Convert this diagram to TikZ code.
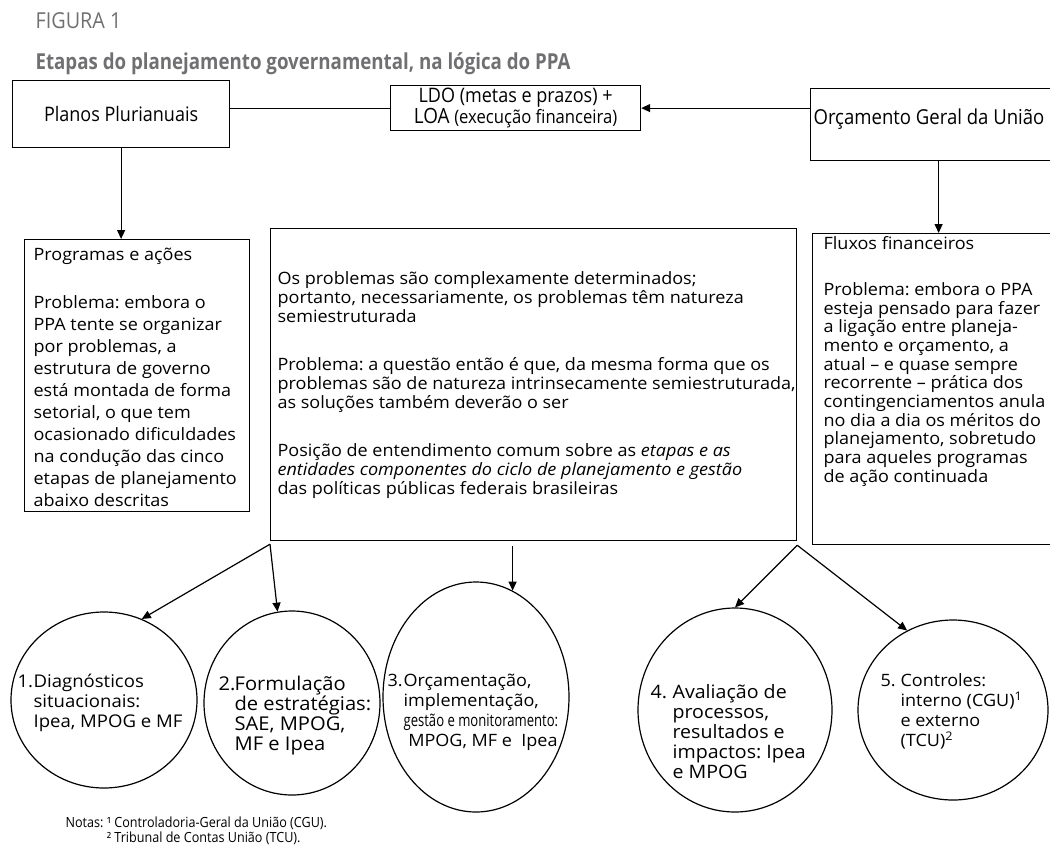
\documentclass[tikz,border=0pt]{standalone}
\usepackage{fontspec}
\setmainfont{Open Sans}
\newfontfamily\bodyfont{Open Sans}[FakeStretch=1.06]
\newfontfamily\condfont{Open Sans}[FakeStretch=0.9]
\newfontfamily\titlefont{Open Sans}[FakeStretch=0.85]
\newfontfamily\tightfont{Open Sans}[FakeStretch=0.77]
\usetikzlibrary{arrows.meta, positioning, shapes.geometric}
\definecolor{titlegray}{RGB}{112,112,114}
\newcommand{\stepnum}[2][16pt]{\makebox[#1][l]{#2}}
\newcommand{\hangnum}[1][16pt]{\hspace*{#1}}
\frenchspacing

\begin{document}
\begin{tikzpicture}[
            x = 1pt, y = -1pt, % pixel grid, y runs downwards
            > = {Triangle[length=9pt, width=8pt]}, % arrow head style
            shorten > = 0pt,
            line width = 1.2pt, % line style
        ]
\tikzstyle{boxstyle}=[
            shape = rectangle,
            draw = black,
            inner sep = 0pt,
            anchor = north west
        ]
\tikzstyle{stepcircle}=[
            shape = ellipse,
            draw = black,
            inner sep = 0pt
        ]
\tikzstyle{boxtext}=[
            anchor = north west,
            inner sep = 0pt,
            align = left,
            font = \bodyfont\fontsize{17}{19}\selectfont
        ]
\tikzstyle{steptext}=[
            boxtext,
            font = \bodyfont\fontsize{18.5}{20}\selectfont
        ]
\tikzstyle{condtext}=[
            inner sep = 0pt,
            align = center,
            font = \condfont\fontsize{20}{20}\selectfont
        ]
\useasboundingbox (0,0) rectangle (1050,855);

% title
\node[anchor=base west, inner sep=0pt, text=titlegray, font=\condfont\fontsize{22}{24}\selectfont] (fig) at (35,28) {FIGURA 1};
\node[anchor=base west, inner sep=0pt, text=titlegray, font=\titlefont\bfseries\fontsize{22}{26}\selectfont] (title) at (35,69) {Etapas do planejamento governamental, na lógica do PPA};

% top row
\node[boxstyle, condtext, minimum width=217pt, minimum height=67pt] (pp) at (12,80) {Planos Plurianuais};
\node[boxstyle, condtext, minimum width=250pt, minimum height=45pt] (ldo) at (390,85) {LDO (metas e prazos) +\\{\fontsize{21}{20}\selectfont LOA} {\fontsize{18.5}{20}\selectfont(execução financeira)}};
\node[boxstyle, minimum width=256pt, minimum height=72pt] (ogu) at (810,88) {};
\node[condtext, anchor=west, font=\condfont\fontsize{20.6}{20}\selectfont] (ogutxt) at (813,119) {Orçamento Geral da União};

% text boxes
\node[boxstyle, minimum width=225pt, minimum height=272pt] (prg) at (24,239) {};
\node[boxstyle, minimum width=526pt, minimum height=312pt] (mid) at (270,228) {};
\node[boxstyle, minimum width=250pt, minimum height=311pt] (flx) at (812,233) {};

\node[boxtext, font=\bodyfont\fontsize{17}{22}\selectfont] (prgtxt) at (33,247) {Programas e ações\\[26pt]
Problema: embora o\\PPA tente se organizar\\por problemas, a\\estrutura de governo\\está montada de forma\\setorial, o que tem\\ocasionado dificuldades\\na condução das cinco\\etapas de planejamento\\abaixo descritas};
\node[boxtext] (midtxt) at (277,271) {Os problemas são complexamente determinados;\\portanto, necessariamente, os problemas têm natureza\\semiestruturada\\[29pt]
Problema: a questão então é que, da mesma forma que os\\problemas são de natureza intrinsecamente semiestruturada,\\as soluções também deverão o ser\\[29pt]
Posição de entendimento comum sobre as \emph{etapas e as}\\\emph{entidades componentes do ciclo de planejamento e gestão}\\das políticas públicas federais brasileiras};
\node[boxtext, font=\bodyfont\fontsize{17}{18.7}\selectfont] (flxtxt) at (823,236) {Fluxos financeiros\\[27pt]
Problema: embora o PPA\\esteja pensado para fazer\\a ligação entre planeja-\\mento e orçamento, a\\atual – e quase sempre\\recorrente – prática dos\\contingenciamentos anula\\no dia a dia os méritos do\\planejamento, sobretudo\\para aqueles programas\\de ação continuada};

% the five steps
\node[stepcircle, minimum width=186pt, minimum height=176pt] (c1) at (104,700) {};
\node[stepcircle, minimum width=176pt, minimum height=184pt] (c2) at (292,703) {};
\node[stepcircle, minimum width=186pt, minimum height=230pt] (c3) at (476,697) {};
\node[stepcircle, minimum width=194pt, minimum height=204pt] (c4) at (735,710) {};
\node[stepcircle, minimum width=190pt, minimum height=180pt] (c5) at (953,710) {};

\node[steptext, font=\bodyfont\fontsize{17.5}{20}\selectfont] (c1txt) at (17,673) {\stepnum{1.}Diagnósticos\\\hangnum situacionais:\\\hangnum Ipea, MPOG e MF};
\node[steptext, font=\bodyfont\fontsize{19}{20}\selectfont] (c2txt) at (218,675) {\stepnum{2.}Formulação\\\hangnum de estratégias:\\\hangnum SAE, MPOG,\\\hangnum MF e Ipea};
\node[steptext, font=\bodyfont\fontsize{17}{20}\selectfont] (c3txt) at (387,673) {\stepnum{3.}Orçamentação,\\\hangnum implementação,\\\hangnum{\tightfont gestão e monitoramento:}\\\hangnum\ MPOG, MF e\ \ Ipea};
\node[steptext] (c4txt) at (650,684) {\stepnum[22pt]{4.}Avaliação de\\\hangnum[22pt]processos,\\\hangnum[22pt]resultados e\\\hangnum[22pt]impactos: Ipea\\\hangnum[22pt]e MPOG};
\node[steptext, font=\bodyfont\fontsize{17}{20}\selectfont] (c5txt) at (880,673) {\stepnum[20pt]{5.}Controles:\\\hangnum[20pt]interno (CGU)\textsuperscript{1}\\\hangnum[20pt]e externo\\\hangnum[20pt](TCU)\textsuperscript{2}};

% notes
\node[boxtext, font=\condfont\fontsize{14}{15.5}\selectfont] (notes) at (65,816) {Notas: ¹ Controladoria-Geral da União (CGU).\\\hphantom{Notas: }² Tribunal de Contas União (TCU).};

% connectors
\draw (pp.east |- ldo.west) -- (ldo.west);
\draw[->] (ogu.west |- ldo.east) -- (ldo.east);
\draw[->] (pp.south) -- (prg.north -| pp.south);
\draw[->] (ogu.south) -- (flx.north -| ogu.south);
\draw[->] ([yshift=-3pt]mid.south west) -- (c1.65);
\draw[->] ([yshift=-3pt]mid.south west) -- (c2.99);
\draw[->] ([xshift=-21pt, yshift=-5pt]mid.south) -- ([xshift=-21pt]mid.south |- c3.71);
\draw[->] ([yshift=-4pt]mid.south east) -- (c4.north);
\draw[->] ([yshift=-4pt]mid.south east) -- (c5.120);
\end{tikzpicture}
\end{document}
